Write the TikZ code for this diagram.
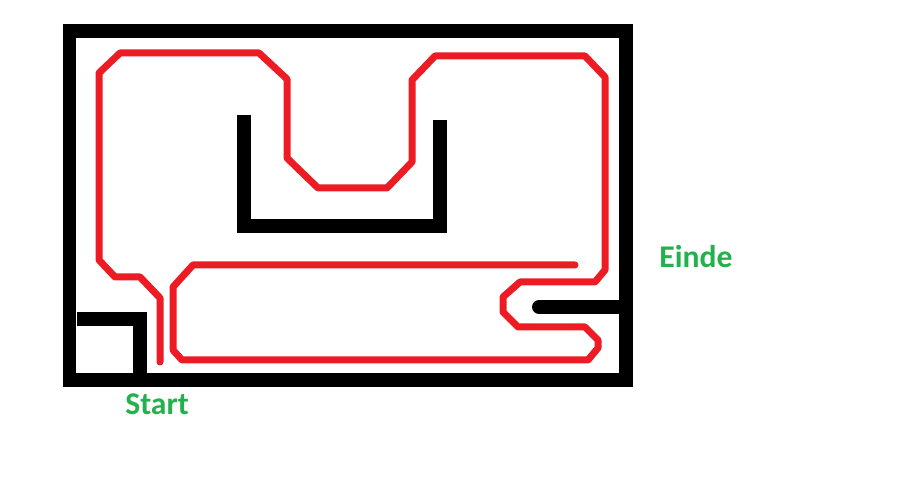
\documentclass[tikz,border=0pt]{standalone}
\usepackage{fontspec}
\newfontfamily\labelfont{Carlito}
\usepackage{tikz}
\usetikzlibrary{positioning}
\definecolor{mazered}{RGB}{237,28,36}
\definecolor{mazegreen}{RGB}{34,177,76}
\tikzset{
  wall/.style={line width=0.28cm, black},
  route/.style={line width=0.14cm, mazered, line cap=round, line join=round},
  tag/.style={font=\labelfont\bfseries\fontsize{18}{20}\selectfont, text=mazegreen}
}
\begin{document}
\begin{tikzpicture}[x=0.02cm, y=-0.02cm]
  \useasboundingbox (0,0) rectangle (900,482);
  \coordinate (TL) at (69.5,31.5);
  \coordinate (BR) at (625.5,380.5);
  % outer walls
  \draw[wall] (TL) rectangle (BR);
  \draw[wall] (77,319.5) -- (140,319.5) -- (140,373);
  \draw[wall] (244,115) -- (244,226) -- (439.5,226) -- (439.5,120);
  \draw[wall, line cap=round] (539,307) -- (618,307);
  % the way through
  \draw[route] (160,362) -- (160,298) -- (140,277) -- (115,277) -- (99,260)
    -- (99,73) -- (120,53) -- (259,53) -- (287,79) -- (287,158) -- (318,188)
    -- (387,188) -- (412,162) -- (412,80) -- (435,56) -- (585,56) -- (605,77)
    -- (605,270) -- (595,282) -- (520,282) -- (503,297) -- (503,312) -- (518,327)
    -- (585,327) -- (598,340) -- (598,348) -- (588,360) -- (182,360) -- (173,350)
    -- (173,287) -- (193,265) -- (575,265);
  \node[tag] (start) at (157,404) {Start};
  \node[tag] (einde) at (696,257) {Einde};
\end{tikzpicture}
\end{document}
